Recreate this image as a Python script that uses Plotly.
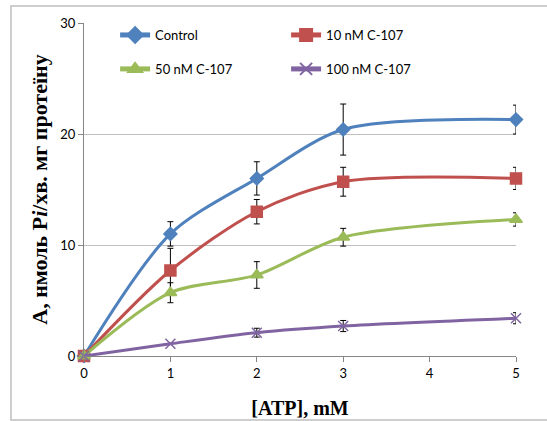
import plotly.graph_objects as go

# ATP concentrations, mM
atp = [0, 1, 2, 3, 5]

# Activity, nmol Pi/min per mg protein, with standard errors
control = [0, 11.0, 16.0, 20.4, 21.3]
control_err = [0, 1.1, 1.5, 2.3, 1.3]

c107_10 = [0, 7.7, 13.0, 15.7, 16.0]
c107_10_err = [0, 2.0, 1.1, 1.3, 1.0]

c107_50 = [0, 5.7, 7.3, 10.7, 12.3]
c107_50_err = [0, 0.9, 1.2, 0.8, 0.6]

c107_100 = [0, 1.1, 2.1, 2.7, 3.4]
c107_100_err = [0, 0.0, 0.4, 0.5, 0.5]

series_names = ["Control", "10 nM C-107", "50 nM C-107", "100 nM C-107"]

series = [
    (series_names[0], control, control_err, "#4F81BD", "diamond", 10, "legend"),
    (series_names[1], c107_10, c107_10_err, "#C0504D", "square", 11, "legend"),
    (series_names[2], c107_50, c107_50_err, "#9BBB59", "triangle-up", 11, "legend2"),
    (series_names[3], c107_100, c107_100_err, "#8064A2", "x-thin", 10, "legend2"),
]

fig = go.Figure()
for name, vals, errs, color, symbol, size, leg in series:
    fig.add_trace(go.Scatter(
        x=atp, y=vals, name=name, mode="lines+markers",
        line=dict(color=color, width=3, shape="spline", smoothing=0.85),
        marker=dict(symbol=symbol, size=size, color=color,
                    line=dict(color=color, width=1.5)),
        error_y=dict(type="data", array=errs, visible=True,
                     color="black", thickness=1, width=3),
        cliponaxis=False,
        legend=leg,
    ))

tick_font = dict(family="Lato, Open Sans, sans-serif", size=13, color="#000000")
legend_common = dict(orientation="h", xanchor="left", yanchor="middle",
                     font=dict(family="Lato, Open Sans, sans-serif", size=13, color="#000000"),
                     bgcolor="rgba(0,0,0,0)", entrywidth=126, entrywidthmode="pixels",
                     itemsizing="constant")

fig.update_layout(
    width=547, height=421,
    margin=dict(l=84, r=31, t=23, b=65, autoexpand=False),
    paper_bgcolor="white", plot_bgcolor="white",
    showlegend=True,
    legend=dict(x=0.072, y=0.964, **legend_common),
    legend2=dict(x=0.072, y=0.862, **legend_common),
    xaxis=dict(
        range=[0, 5], tickmode="array", tickvals=[0, 1, 2, 3, 4, 5],
        showgrid=False, zeroline=False, automargin=False,
        showline=True, linecolor="#868686", linewidth=1,
        ticks="outside", ticklen=5, tickcolor="#868686",
        tickfont=tick_font,
        title=dict(text="[ATP], mM", standoff=21,
                   font=dict(family="Liberation Serif, Times New Roman, serif",
                             size=20, color="#000000", weight="bold")),
    ),
    yaxis=dict(
        range=[0, 30], tickmode="array", tickvals=[0, 10, 20, 30],
        showgrid=True, gridcolor="#BFBFBF", gridwidth=1, zeroline=False,
        automargin=False,
        showline=True, linecolor="#868686", linewidth=1,
        ticks="outside", ticklen=5, tickcolor="#868686",
        tickfont=tick_font,
        title=dict(text="A, нмоль P<i>i</i>/хв. мг протеїну", standoff=6,
                   font=dict(family="Liberation Serif, Times New Roman, serif",
                             size=22, color="#000000", weight="bold")),
    ),
    shapes=[dict(type="rect", xref="paper", yref="paper",
                 x0=-0.169, x1=1.085, y0=-0.192, y1=1.051,
                 line=dict(color="#BFBFBF", width=1.5), layer="below")],
)

fig.write_html("out.html")
